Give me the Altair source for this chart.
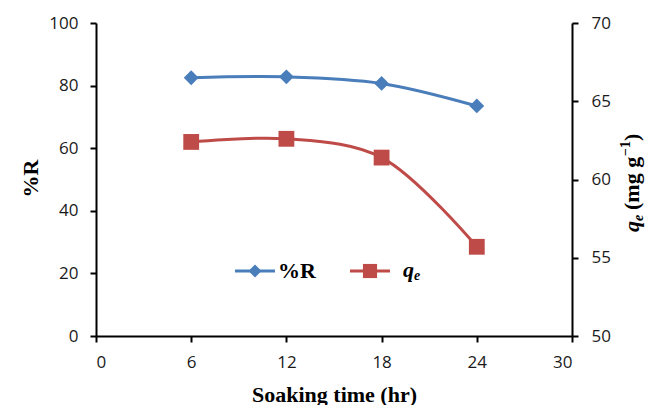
import altair as alt
import pandas as pd

# Soaking time (hr) and the two measured responses
soak_time = [6, 12, 18, 24]
removal_pct = [82.5, 82.8, 80.7, 73.5]      # %R, left axis
qe_values = [62.4, 62.6, 61.4, 55.7]        # q_e (mg g^-1), right axis

x_ticks = [0, 6, 12, 18, 24, 30]
left_ticks = [0, 20, 40, 60, 80, 100]
right_ticks = [50, 55, 60, 65, 70]

BLUE = "#4A7EBB"
RED = "#BE4B48"
SERIF = "Liberation Serif"
SANS = "Open Sans"

df = pd.DataFrame({"time": soak_time, "R": removal_pct, "qe": qe_values})
one = pd.DataFrame({"k": [0]})

axis_common = dict(
    domainColor="black", domainWidth=2, tickColor="black", tickWidth=2,
    tickSize=6, labelFont=SANS, labelFontSize=17, labelColor="#1a1a1a",
    grid=False,
)

x_enc = alt.X(
    "time:Q",
    scale=alt.Scale(domain=[0, 30], nice=False, zero=False),
    axis=alt.Axis(
        values=x_ticks, labelPadding=12, title="Soaking time (hr)",
        titleFont=SERIF, titleFontSize=22, titleFontWeight="bold",
        titleColor="black", titleX=238, titleY=65, titleBaseline="alphabetic",
        titleAlign="center", **axis_common,
    ),
)

base = alt.Chart(df)

r_line = base.mark_line(interpolate="catmull-rom", color=BLUE, strokeWidth=3).encode(
    x=x_enc,
    y=alt.Y(
        "R:Q",
        scale=alt.Scale(domain=[0, 100], nice=False),
        axis=alt.Axis(
            values=left_ticks, orient="left", labelPadding=12, title="%R",
            titleFont=SERIF, titleFontSize=22, titleFontWeight="bold",
            titleColor="black", titleAngle=270, titleAlign="center",
            titleBaseline="alphabetic", titleX=-59, titleY=155,
            **axis_common,
        ),
    ),
)
r_pts = base.mark_point(shape="diamond", filled=True, size=220, color=BLUE, opacity=1).encode(
    x="time:Q", y="R:Q"
)
left_layer = alt.layer(r_line, r_pts)

q_line = base.mark_line(interpolate="catmull-rom", color=RED, strokeWidth=3).encode(
    x="time:Q",
    y=alt.Y(
        "qe:Q",
        scale=alt.Scale(domain=[50, 70], nice=False, zero=False),
        axis=alt.Axis(values=right_ticks, orient="right", labelPadding=13,
                      title=None, **axis_common),
    ),
)
q_pts = base.mark_square(size=250, color=RED, opacity=1).encode(x="time:Q", y="qe:Q")
right_layer = alt.layer(q_line, q_pts)


def label(text, x, y, size=22, style="normal", angle=0, align="left", baseline="alphabetic"):
    return alt.Chart(one).mark_text(
        text=text, font=SERIF, fontSize=size, fontWeight="bold", fontStyle=style,
        color="black", angle=angle, align=align, baseline=baseline,
    ).encode(x=alt.value(x), y=alt.value(y))


# Right-hand axis title: q_e (mg g^-1), written bottom-to-top
right_title = [
    label("q", 543, 209, 22, "italic", 270),
    label("e", 547, 198, 14, "italic", 270),
    label("(mg g", 543, 187, 22, "normal", 270),
    label("\u22121", 534, 133, 14, "normal", 270),
    label(")", 543, 118, 22, "normal", 270),
]

# Legend drawn inside the plot
legend = [
    alt.Chart(one).mark_rule(color=BLUE, strokeWidth=3).encode(
        x=alt.value(139), x2=alt.value(179), y=alt.value(248)),
    alt.Chart(one).mark_point(shape="diamond", filled=True, size=170, color=BLUE, opacity=1).encode(
        x=alt.value(159), y=alt.value(248)),
    label("%R", 182, 248, 22, baseline="middle"),
    alt.Chart(one).mark_rule(color=RED, strokeWidth=3).encode(
        x=alt.value(254), x2=alt.value(294), y=alt.value(248)),
    alt.Chart(one).mark_square(size=200, color=RED, opacity=1).encode(
        x=alt.value(274), y=alt.value(248)),
    label("q", 307, 254, 22, "italic"),
    label("e", 318, 257, 14, "italic"),
]

chart = alt.layer(left_layer, right_layer, *right_title, *legend).resolve_scale(
    y="independent"
).properties(
    width=476, height=313,
    autosize=alt.AutoSizeParams(type="none"),
    padding={"left": 96, "top": 23, "right": 74, "bottom": 69},
    background="white",
).configure_view(stroke=None)

chart.save("out.html", embed_options={"renderer": "svg", "actions": False})
